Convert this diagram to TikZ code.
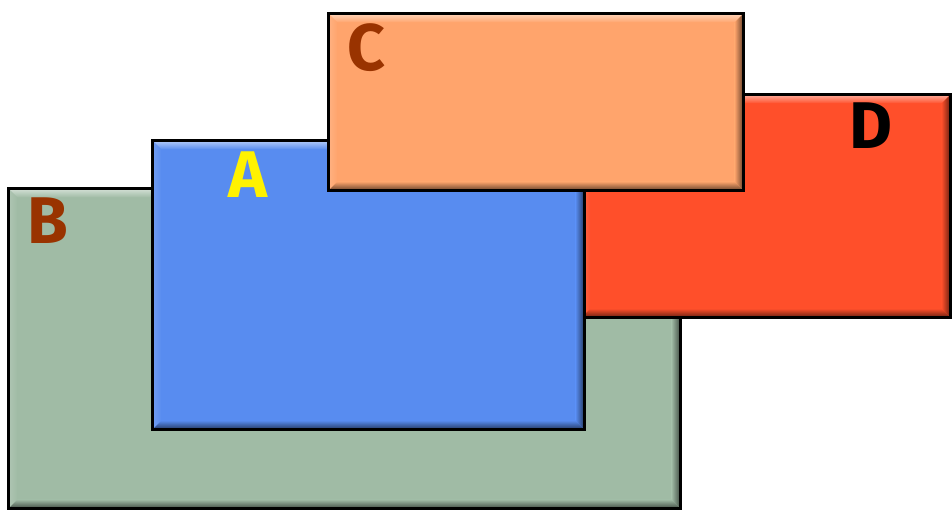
\documentclass[tikz,border=0pt]{standalone}
\usepackage{fontspec}
\setmainfont{Fira Sans}
\usetikzlibrary{calc}
\definecolor{cB}{HTML}{A0BBA5}
\definecolor{cD}{HTML}{FF4F2A}
\definecolor{cA}{HTML}{588CF0}
\definecolor{cC}{HTML}{FFA46C}
\definecolor{brownlbl}{HTML}{993300}
\tikzset{
  bevelbox/.style={draw=black,line width=3pt,fill=#1,inner sep=0pt,anchor=north west,
    path picture={
      \path (path picture bounding box.north west) coordinate (p1)
            (path picture bounding box.north east) coordinate (p2)
            (path picture bounding box.south east) coordinate (p3)
            (path picture bounding box.south west) coordinate (p4);
      \path (p1) ++(9pt,-9pt) coordinate (q1)
            (p2) ++(-9pt,-9pt) coordinate (q2)
            (p3) ++(-9pt,9pt) coordinate (q3)
            (p4) ++(9pt,9pt) coordinate (q4);
      \shade[left color=#1!85!white,right color=#1] (p1)--(q1)--(q4)--(p4)--cycle;
      \shade[top color=#1!45!white,bottom color=#1] (p1)--(p2)--(q2)--(q1)--cycle;
      \shade[left color=#1,right color=#1!40!black] (p2)--(p3)--(q3)--(q2)--cycle;
      \shade[top color=#1,bottom color=#1!40!black] (p4)--(q4)--(q3)--(p3)--cycle;
    }},
  lbl/.style={font=\fontsize{66}{66}\selectfont\bfseries,inner sep=0pt}
}
\begin{document}
\begin{tikzpicture}[x=1pt,y=-1pt]
\useasboundingbox (0,0) rectangle (952,513);
\node[bevelbox=cB,minimum width=672pt,minimum height=320pt] (B) at (7,187) {};
\node[bevelbox=cD,minimum width=369pt,minimum height=223pt] (D) at (580,93) {};
\node[bevelbox=cA,minimum width=432pt,minimum height=289pt] (A) at (151,139) {};
\node[bevelbox=cC,minimum width=415pt,minimum height=177pt] (C) at (327,12) {};
\node[lbl,text=brownlbl] (labB) at (48,221) {B};
\node[lbl,text=yellow] (labA) at (248,175) {A};
\node[lbl,text=brownlbl] (labC) at (366,48) {C};
\node[lbl,text=black] (labD) at (871,126) {D};
\end{tikzpicture}
\end{document}
